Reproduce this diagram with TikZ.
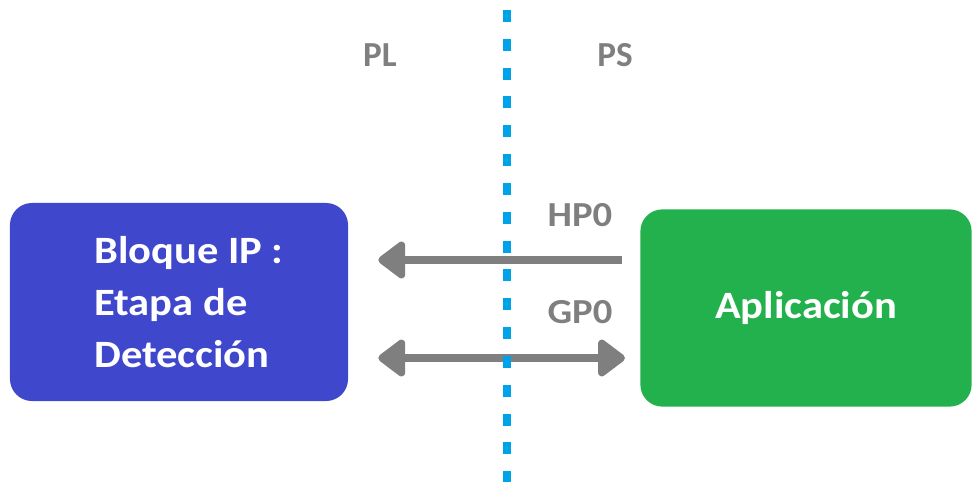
\documentclass[tikz,border=0pt]{standalone}
\usepackage{fontspec}
\setmainfont{Carlito}
\newfontfamily\anchafont{Carlito}[FakeStretch=1.1]
\usetikzlibrary{arrows.meta}

\definecolor{ipblue}{RGB}{63,72,204}
\definecolor{appgreen}{RGB}{34,177,76}
\definecolor{linegray}{RGB}{127,127,127}
\definecolor{divblue}{RGB}{0,162,232}

\tikzset{
  bloquebox/.style={rounded corners=0.55cm, minimum width=8.45cm, minimum height=4.95cm, text=white,
    font=\anchafont\fontsize{27.5pt}{37pt}\selectfont\bfseries},
  etiqueta/.style={text=linegray},
  bus/.style={linegray, line width=5.7pt, >={Triangle[length=21pt,width=30pt,round]}}
}

\begin{document}
\begin{tikzpicture}[x=0.025cm,y=-0.025cm,font=\fontsize{25pt}{37pt}\selectfont\bfseries]
          \useasboundingbox (0,0) rectangle (972,482);

          % blocks
          \node[bloquebox, fill=ipblue, align=left] (bloque) at (179,302)
            {\hspace*{14pt}Bloque IP :\\\hspace*{14pt}Etapa de\\\hspace*{14pt}Detección};
          \node[bloquebox, fill=appgreen, minimum width=8.28cm, minimum height=4.93cm] (app) at (806,308) {Aplicación};

          % labels
          \node[etiqueta] (pl) at (380,55) {PL};
          \node[etiqueta] (ps) at (615,55) {PS};
          \node[etiqueta, font=\anchafont\fontsize{25pt}{37pt}\selectfont\bfseries] (hp) at (580,215) {HP0};
          \node[etiqueta, font=\anchafont\fontsize{25pt}{37pt}\selectfont\bfseries] (gp) at (580,312) {GP0};

          % buses between PS and PL
          \coordinate (hpa) at (641,260);
          \coordinate (gpa) at (641,358);
          \draw[bus, ->, shorten <=13.5pt, shorten >=21.3pt] (hpa) -- (hpa -| bloque.east);
          \draw[bus, <->, shorten <=21.3pt, shorten >=11.4pt] (gpa -| bloque.east) -- (gpa);

          % PL / PS divider
          \coordinate (top) at (507,10);
          \coordinate (bottom) at (507,482);
          \draw[divblue, line width=5pt, dash pattern=on 8.5pt off 12pt] (top) -- (bottom);
        \end{tikzpicture}
\end{document}
